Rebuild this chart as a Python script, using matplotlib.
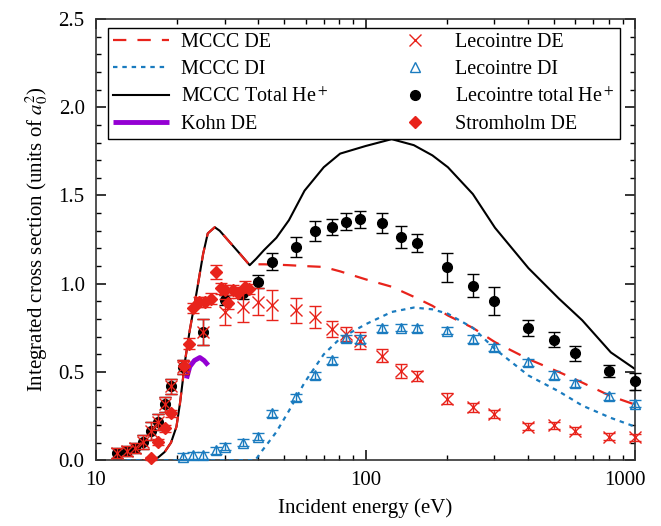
import matplotlib
matplotlib.use("Agg")
import matplotlib.pyplot as plt
from matplotlib.lines import Line2D
from matplotlib.transforms import ScaledTranslation
from matplotlib.ticker import MultipleLocator, FixedLocator, NullFormatter

plt.rcParams["font.family"] = ["Liberation Serif", "DejaVu Serif"]
plt.rcParams["mathtext.fontset"] = "stix"

# --- MCCC theory curves ---
mccc_e = [15, 16, 17, 18, 19, 19.9, 20.5, 21, 21.4, 22.3, 23.6, 25, 26, 27.6, 28.8,
          31.3, 34.2, 37.2, 39.4, 42, 46.7, 52, 59.4, 70, 80.5, 100, 125, 151, 177,
          202, 250, 302, 402, 521, 636, 812, 1000]
mccc_total = [0.0, 0.0, 0.015, 0.047, 0.10, 0.19, 0.32, 0.45, 0.56, 0.737, 0.945, 1.17,
              1.285, 1.32, 1.30, 1.237, 1.17, 1.105, 1.143, 1.19, 1.26, 1.36, 1.527,
              1.66, 1.737, 1.78, 1.819, 1.785, 1.727, 1.66, 1.508, 1.317, 1.088, 0.916,
              0.793, 0.611, 0.516]
mccc_de = [0.0, 0.0, 0.015, 0.047, 0.10, 0.19, 0.32, 0.45, 0.56, 0.737, 0.945, 1.17,
           1.285, 1.32, 1.30, 1.237, 1.17, 1.105, 1.11, 1.11, 1.108, 1.105, 1.10,
           1.095, 1.07, 1.025, 0.983, 0.926, 0.875, 0.82, 0.75, 0.669, 0.573, 0.50,
           0.44, 0.363, 0.315]
mccc_di_e = [13, 39, 41.5, 46.7, 52, 59.4, 70, 80.5, 100, 125, 151, 177, 202, 250, 302,
             402, 521, 636, 812, 1000]
mccc_di = [0.0, 0.0, 0.057, 0.16, 0.28, 0.44, 0.60, 0.69, 0.77, 0.84, 0.865, 0.855,
           0.83, 0.75, 0.63, 0.48, 0.39, 0.31, 0.24, 0.19]

# --- Kohn DE ---
kohn_e = [21.7, 22.3, 23.2, 24.3, 25.2, 26.1]
kohn_de = [0.463, 0.53, 0.565, 0.582, 0.565, 0.538]

# --- Lecointre experiment ---
lec_e = [12, 13, 14, 15, 16, 17, 18, 19, 21, 25, 30, 35, 40, 45, 55, 65, 75, 85, 95,
         115, 135, 155, 200, 250, 300, 400, 500, 600, 800, 1000]
lec_total = [0.04, 0.052, 0.07, 0.104, 0.165, 0.219, 0.317, 0.42, 0.53, 0.728, 0.907,
             0.945, 1.011, 1.125, 1.209, 1.298, 1.321, 1.351, 1.365, 1.342, 1.264,
             1.23, 1.092, 0.989, 0.903, 0.748, 0.684, 0.605, 0.505, 0.447]
lec_total_err = [0.03, 0.03, 0.03, 0.04, 0.05, 0.045, 0.043, 0.043, 0.04, 0.074, 0.03,
                 0.03, 0.038, 0.047, 0.055, 0.055, 0.047, 0.049, 0.048, 0.056, 0.062,
                 0.052, 0.08, 0.067, 0.08, 0.045, 0.043, 0.04, 0.036, 0.048]
lec_de = [0.04, 0.052, 0.07, 0.104, 0.165, 0.219, 0.317, 0.42, 0.53, 0.728, 0.84, 0.87,
          0.897, 0.879, 0.85, 0.811, 0.744, 0.716, 0.678, 0.592, 0.506, 0.477, 0.349,
          0.30, 0.262, 0.191, 0.197, 0.166, 0.134, 0.13]
lec_de_err = [0.03, 0.03, 0.03, 0.04, 0.05, 0.045, 0.043, 0.043, 0.04, 0.074, 0.071,
              0.085, 0.076, 0.085, 0.071, 0.062, 0.046, 0.038, 0.048, 0.038, 0.038,
              0.03, 0.03, 0.025, 0.025, 0.02, 0.02, 0.02, 0.02, 0.02]
lec_di_e = [21, 23, 25, 28, 30, 35, 40, 45, 55, 65, 75, 85, 95, 115, 135, 155, 200, 250,
            300, 400, 500, 600, 800, 1000]
lec_di = [0.019, 0.028, 0.028, 0.057, 0.076, 0.098, 0.132, 0.265, 0.357, 0.481, 0.567,
          0.69, 0.687, 0.748, 0.75, 0.748, 0.733, 0.687, 0.64, 0.554, 0.483, 0.435,
          0.363, 0.321]
lec_di_err = [0.02] * len(lec_di)

# --- Stromholm DE ---
strom_e = [16.0, 17.0, 18.1, 19.0, 21.2, 22.1, 22.9, 24.1, 25.3, 26.8, 28.0, 29.2, 30.0,
           30.9, 32.3, 33.7, 35.6, 36.9]
strom_de = [0.01, 0.104, 0.18, 0.265, 0.535, 0.661, 0.863, 0.897, 0.897, 0.916, 1.068,
            0.973, 0.964, 0.888, 0.964, 0.95, 0.983, 0.97]
strom_err = [0.01, 0.015, 0.02, 0.02, 0.03, 0.03, 0.03, 0.03, 0.03, 0.03, 0.04, 0.03,
             0.03, 0.03, 0.03, 0.03, 0.03, 0.03]

red = "#e8231b"
blue = "#1a7bbf"
purple = "#9400d3"

fig = plt.figure(figsize=(6.61, 5.26), dpi=100)
ax = fig.add_axes([0.145, 0.125, 0.816, 0.839])

h_de, = ax.plot(mccc_e, mccc_de, color=red, lw=1.6, dashes=(6, 5), zorder=3)
h_di, = ax.plot(mccc_di_e, mccc_di, color=blue, lw=1.6, dashes=(2, 2.2), zorder=3)
h_tot, = ax.plot(mccc_e, mccc_total, color="black", lw=1.5, zorder=2)
h_kohn, = ax.plot(kohn_e, kohn_de, color=purple, lw=3.5, solid_capstyle="butt", zorder=4)

eb_kw = dict(capsize=4, elinewidth=1, capthick=1)
e1 = ax.errorbar(lec_e, lec_total, yerr=lec_total_err, fmt="o", color="black", ms=7,
                 zorder=5, **eb_kw)
e2 = ax.errorbar(lec_e, lec_de, yerr=lec_de_err, fmt="x", color=red, ms=8, mew=1,
                 zorder=6, **eb_kw)
e3 = ax.errorbar(lec_di_e, lec_di, yerr=lec_di_err, fmt="^", color=blue, mfc="none",
                 ms=7, mew=1, zorder=6, **eb_kw)
e4 = ax.errorbar(strom_e, strom_de, yerr=strom_err, fmt="D", color=red, ms=6.5,
                 zorder=5, **eb_kw)
for h in (e1, e2, e3, e4):
    for art in h.get_children():
        art.set_clip_on(False)

# legend proxies: markers only
h_lde = Line2D([], [], ls="none", marker="x", color=red, ms=8, mew=1)
h_ldi = Line2D([], [], ls="none", marker="^", color=blue, mfc="none", ms=7, mew=1)
h_ltot = Line2D([], [], ls="none", marker="o", color="black", ms=7)
h_str = Line2D([], [], ls="none", marker="D", color=red, ms=6.5)

ax.set_xscale("log")
ax.set_xlim(10, 1000)
ax.set_ylim(0, 2.5)
ax.xaxis.set_major_locator(FixedLocator([10, 100, 1000]))
ax.set_xticklabels(["10", "100", "1000"])
ax.xaxis.set_minor_locator(FixedLocator([m * d for d in (10, 100) for m in range(2, 10)]))
ax.xaxis.set_minor_formatter(NullFormatter())
ax.yaxis.set_major_locator(MultipleLocator(0.5))
ax.yaxis.set_minor_locator(MultipleLocator(0.1))
ax.yaxis.set_major_formatter(plt.FormatStrFormatter("%.1f"))
ax.tick_params(which="both", direction="in", top=True, right=True, labelsize=15, pad=8)
ax.tick_params(which="major", length=7, width=1.1)
ax.tick_params(which="minor", length=3.5, width=1)
for s in ax.spines.values():
    s.set_linewidth(1.2)
    s.set_color("#333333")

# the "1000" label sits a little to the left in the original
lab = ax.get_xticklabels()[-1]
lab.set_transform(lab.get_transform() + ScaledTranslation(-10 / 100, 0, fig.dpi_scale_trans))

ax.set_xlabel("Incident energy (eV)", fontsize=15, labelpad=6)
ax.set_ylabel("Integrated cross section (units of $a_0^2$)", fontsize=15, labelpad=6)

handles = [h_de, h_di, h_tot, h_kohn, h_lde, h_ldi, h_ltot, h_str]
labels = ["MCCC DE", "MCCC DI", "MCCC Total He$^+$", "Kohn DE",
          "Lecointre DE", "Lecointre DI", "Lecointre total He$^+$", "Stromholm DE"]
leg = ax.legend(handles, labels, ncol=2, loc="upper left",
                bbox_to_anchor=(0.022, 0.98, 0.95, 0.0), mode="expand",
                borderaxespad=0, fontsize=14.5, frameon=True, fancybox=False,
                edgecolor="black", framealpha=1, handlelength=2.8, handletextpad=0.6,
                labelspacing=0.4, borderpad=0.25)
leg.get_frame().set_linewidth(1.0)

fig.savefig("out.png", dpi=100)
